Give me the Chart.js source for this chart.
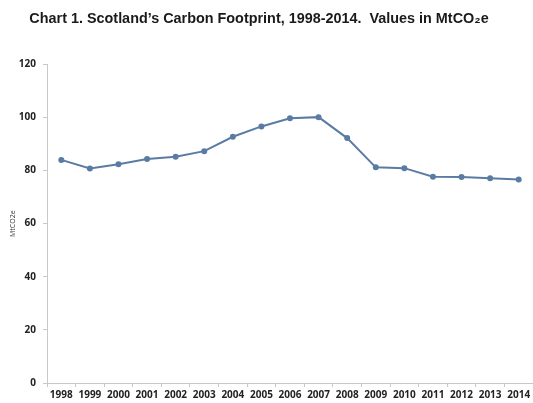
<!DOCTYPE html>
<html>
<head>
<meta charset="utf-8">
<script src="https://cdn.jsdelivr.net/npm/chart.js@4"></script>
<style>
    html, body { margin: 0; padding: 0; background: #ffffff; }
    #wrap { width: 533px; height: 403px; position: relative; }
</style>
</head>
<body>
<div id="wrap"><canvas id="footprintChart"></canvas></div>
<script>
// Chart data
const years = ['1998', '1999', '2000', '2001', '2002', '2003', '2004', '2005', '2006',
    '2007', '2008', '2009', '2010', '2011', '2012', '2013', '2014'];
const footprint = [84.0, 80.8, 82.4, 84.3, 85.2, 87.3, 92.7, 96.6, 99.7,
    100.1, 92.2, 81.2, 80.9, 77.7, 77.6, 77.1, 76.6];
const yTicks = [0, 20, 40, 60, 80, 100, 120];

const lineColour = '#5a7ca4';
const axisColour = '#c8c8c8';

// The original title sits a little left of the page centre
const titleShift = {
    id: 'titleShift',
    afterLayout: function(chart) {
        const t = chart.titleBlock;
        if (t) {
            const centre = 259;
            const half = centre - t.left;
            t.right = centre + half;
            t.width = t.right - t.left;
        }
    }
};

document.addEventListener('DOMContentLoaded', function() {
    const ctx = document.getElementById('footprintChart').getContext('2d');

    new Chart(ctx, {
        type: 'line',
        data: {
            labels: years,
            datasets: [{
                label: 'MtCO2e',
                data: footprint,
                borderColor: lineColour,
                backgroundColor: lineColour,
                borderWidth: 2,
                tension: 0,
                pointRadius: 2,
                pointBackgroundColor: lineColour,
                pointBorderColor: lineColour
            }]
        },
        plugins: [titleShift],
        options: {
            responsive: true,
            maintainAspectRatio: false,
            animation: false,
            layout: {
                autoPadding: false,
                padding: { left: 9, right: 0, top: 0, bottom: 0 }
            },
            plugins: {
                legend: { display: false },
                tooltip: { enabled: false },
                title: {
                    display: true,
                    text: 'Chart 1. Scotland\u2019s Carbon Footprint, 1998-2014.  Values in MtCO\u2082e',
                    color: '#1a1a1a',
                    font: { family: 'Liberation Sans, Arial, sans-serif', size: 14.4, weight: 'bold' },
                    padding: { top: 10, bottom: 37 }
                }
            },
            scales: {
                y: {
                    min: 0,
                    max: 120,
                    afterBuildTicks: function(scale) {
                        scale.ticks = yTicks.map(v => ({ value: v }));
                    },
                    afterFit: function(scale) {
                        scale.width = 38;
                    },
                    title: {
                        display: true,
                        text: 'MtCO2e',
                        color: '#333',
                        font: { family: 'Open Sans, sans-serif', size: 7 },
                        padding: 0
                    },
                    ticks: {
                        color: '#222',
                        font: { family: 'Open Sans, sans-serif', size: 10, weight: 'bold' },
                        padding: 7
                    },
                    grid: {
                        drawOnChartArea: false,
                        drawTicks: true,
                        tickLength: 4,
                        color: axisColour
                    },
                    border: { color: axisColour }
                },
                x: {
                    offset: true,
                    afterFit: function(scale) {
                        scale.height = 20;
                    },
                    ticks: {
                        color: '#222',
                        autoSkip: false,
                        maxRotation: 0,
                        font: { family: 'Open Sans, sans-serif', size: 10, weight: 'bold' },
                        padding: 2
                    },
                    grid: {
                        offset: true,
                        drawOnChartArea: false,
                        drawTicks: true,
                        tickLength: 4,
                        color: axisColour
                    },
                    border: { color: axisColour }
                }
            }
        }
    });
});
</script>
</body>
</html>
